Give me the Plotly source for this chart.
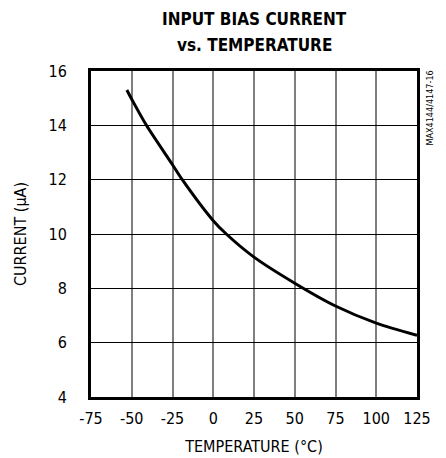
import plotly.graph_objects as go

temperature_c = [-53, -50, -41, -25, -19, 0, 8, 25, 50, 75, 100, 125]
current_ua = [15.3, 14.96, 14.0, 12.55, 12.0, 10.49, 10.0, 9.15, 8.19, 7.35, 6.72, 6.27]

x_ticks = [-75, -50, -25, 0, 25, 50, 75, 100, 125]
y_ticks = [4, 6, 8, 10, 12, 14, 16]

title_lines = ["INPUT BIAS CURRENT", "vs. TEMPERATURE"]
x_title = "TEMPERATURE (°C)"
y_title = "CURRENT (µA)"
side_note = "MAX4144/4147-16"

FONT = "DejaVu Sans Condensed, Liberation Sans Narrow, Arial Narrow, Roboto, sans-serif"

fig = go.Figure()
fig.add_trace(go.Scatter(
    x=temperature_c, y=current_ua, mode="lines",
    line=dict(color="black", width=3, shape="spline", smoothing=0.8),
    showlegend=False, hoverinfo="skip",
))

# page body has an 8px margin, so the figure is 8px smaller than the window
fig.update_layout(
    width=438, height=450,
    margin=dict(l=83, r=29, t=63, b=61, autoexpand=False),
    paper_bgcolor="white", plot_bgcolor="white",
    font=dict(family=FONT, size=16, color="black"),
    xaxis=dict(
        range=[-75, 125], tickvals=x_ticks, ticktext=[str(v) for v in x_ticks],
        showgrid=True, gridcolor="#7f7f7f", gridwidth=1.5,
        zeroline=False, showline=True, linecolor="black", linewidth=3, mirror=True,
        ticks="", ticklabelstandoff=5, automargin=False,
        title=dict(text=x_title, standoff=14, font=dict(family=FONT, size=16)),
        tickfont=dict(family=FONT, size=16),
    ),
    yaxis=dict(
        range=[4, 16], tickvals=y_ticks, ticktext=[str(v) for v in y_ticks],
        showgrid=True, gridcolor="black", gridwidth=1,
        zeroline=False, showline=True, linecolor="black", linewidth=3, mirror=True,
        ticks="", ticklabelstandoff=18, automargin=False,
        title=dict(text=y_title, standoff=18, font=dict(family=FONT, size=16)),
        tickfont=dict(family=FONT, size=16),
    ),
)

for i, line in enumerate(title_lines):
    fig.add_annotation(
        text="<b>%s</b>" % line, xref="paper", yref="paper",
        x=0.5, y=1.0, xanchor="center", yanchor="middle",
        yshift=71 - [19, 45][i], showarrow=False,
        font=dict(family=FONT, size=17, color="black"),
    )

fig.add_annotation(
    text=side_note, xref="paper", yref="paper",
    x=1.0, y=1.0, xanchor="left", yanchor="top", xshift=5, yshift=2,
    textangle=-90, showarrow=False,
    font=dict(family=FONT, size=9, color="black"),
)

fig.write_html("out.html")
